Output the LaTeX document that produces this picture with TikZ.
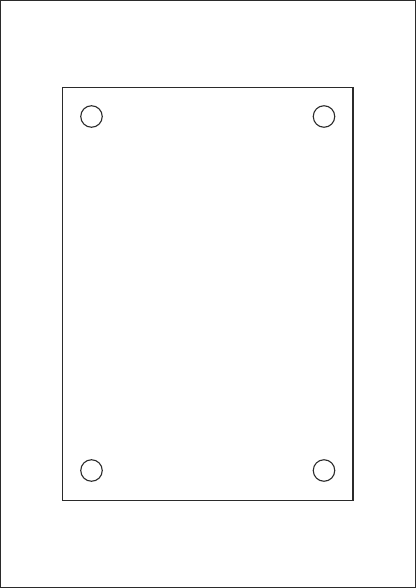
\documentclass[tikz,border=0pt]{standalone}
\usepackage{tikz}
\definecolor{ln}{HTML}{2B2B2B}
\begin{document}
\begin{tikzpicture}[x=1pt,y=-1pt,
  edge/.style={draw=ln,line width=1.1pt},
  hole/.style={circle,draw=ln,line width=1.1pt,minimum size=21.5pt,inner sep=0pt}]
\useasboundingbox (0,0) rectangle (416,588);
\draw[edge] (0.8,0.8) rectangle (415.2,587.2);
\draw[edge] (62.5,87.5) rectangle (353,500.5);
\node[hole] (h1) at (91.5,116.5) {};
\node[hole] (h2) at (324,116.5) {};
\node[hole] (h3) at (91.5,470.5) {};
\node[hole] (h4) at (324,470.5) {};
\end{tikzpicture}
\end{document}
